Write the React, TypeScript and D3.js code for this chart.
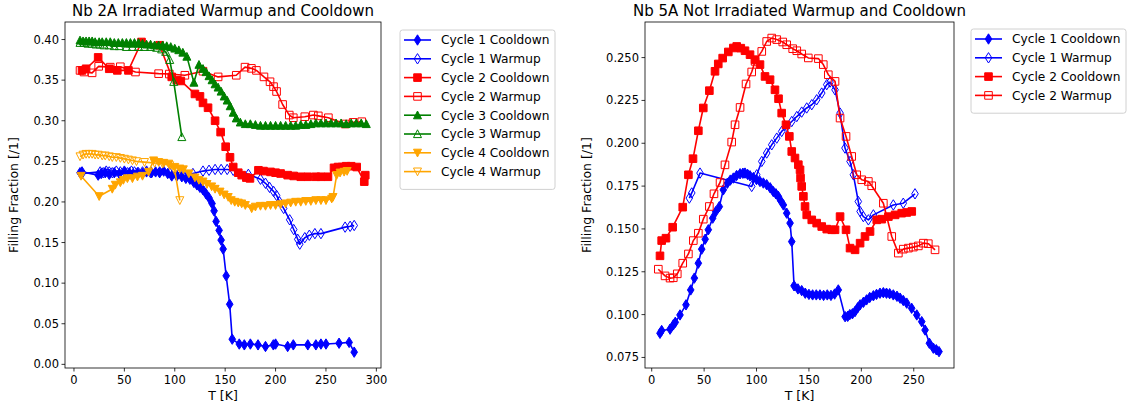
import React from "react";
import * as d3 from "d3";

type P = [number, number];

// ---------- Left: Nb 2A Irradiated ----------
const L_c1Cool: P[] = [[6,0.236],[8,0.237],[24,0.233],[27,0.235],[31,0.236],[35,0.234],[40,0.236],[45,0.235],[50,0.237],[55,0.236],[59,0.234],[63,0.236],[68,0.235],[72,0.237],[77,0.236],[81,0.237],[85,0.236],[89,0.238],[93,0.235],[97,0.232],[102,0.232],[107,0.231],[111,0.229],[115,0.228],[119,0.224],[122,0.221],[125,0.218],[128,0.215],[131,0.210],[134,0.205],[137,0.198],[139,0.189],[141,0.176],[144,0.165],[146,0.153],[148,0.142],[151,0.109],[154.5,0.074],[157,0.031],[164,0.025],[169,0.024],[175,0.025],[182.6,0.024],[190,0.022],[197.8,0.024],[200,0.025],[212,0.022],[217.6,0.024],[232,0.024],[240,0.024],[245,0.025],[250,0.025],[263,0.026],[273,0.027],[278,0.015]];
const L_c1Warm: P[] = [[8,0.235],[26,0.237],[29,0.236],[32,0.238],[35,0.237],[38,0.236],[42,0.238],[46,0.237],[50,0.238],[53,0.236],[57,0.238],[60,0.237],[64,0.236],[68,0.237],[72,0.238],[76,0.236],[85,0.237],[95,0.236],[105,0.236],[118,0.235],[128,0.238],[134,0.239],[140,0.240],[146,0.240],[152,0.240],[158,0.239],[173,0.234],[185,0.228],[190,0.223],[194,0.218],[198,0.213],[201,0.208],[204,0.200],[208,0.192],[214,0.178],[218,0.166],[222,0.154],[224,0.148],[229,0.156],[233.5,0.159],[239,0.161],[245,0.161],[269,0.169],[274,0.170],[278,0.171]];
const L_c2Cool: P[] = [[8,0.362],[12,0.364],[24,0.378],[35,0.364],[43,0.362],[54,0.362],[67,0.397],[85,0.393],[97,0.354],[102,0.350],[106,0.349],[120,0.333],[125,0.330],[128,0.322],[133,0.316],[140,0.300],[145.5,0.286],[150.5,0.268],[154.8,0.255],[158,0.243],[163,0.236],[166.4,0.233],[171,0.230],[174.6,0.229],[183,0.239],[188,0.238],[195,0.237],[200,0.236],[205,0.235],[212,0.233],[218,0.232],[225,0.231],[232,0.231],[240,0.231],[245,0.231],[252,0.231],[258,0.242],[262,0.243],[266,0.243],[270,0.244],[275,0.244],[280.5,0.243],[288,0.225],[289,0.233]];
const L_c2Warm: P[] = [[6,0.362],[10,0.360],[18,0.359],[24.5,0.367],[36,0.366],[46,0.3665],[61,0.360],[84,0.358],[94.6,0.3575],[110,0.356],[128,0.361],[143,0.354],[161,0.356],[169.7,0.366],[176,0.3645],[181,0.362],[188.5,0.354],[194.5,0.348],[198,0.342],[201,0.336],[207,0.320],[213.6,0.307],[217.6,0.3037],[229,0.305],[237.5,0.307],[242.4,0.306],[252.4,0.3037],[269,0.296],[277,0.298],[285.5,0.2988]];
const L_c3Cool: P[] = [[6,0.399],[9,0.398],[12,0.398],[15,0.398],[18,0.398],[21,0.397],[25,0.397],[28,0.397],[32,0.397],[36,0.397],[40,0.396],[44,0.396],[48,0.396],[52,0.396],[56,0.396],[60,0.396],[64,0.396],[68,0.395],[72,0.394],[76,0.394],[80,0.393],[84,0.393],[88,0.393],[92,0.392],[96,0.391],[100,0.389],[104,0.387],[108,0.384],[112,0.379],[119,0.347],[124,0.369],[128,0.364],[131,0.360],[134,0.355],[137,0.350],[140,0.345],[143,0.341],[146,0.336],[149,0.330],[152,0.325],[155,0.318],[158,0.310],[161,0.303],[165,0.298],[170,0.296],[175,0.296],[180,0.295],[185,0.294],[190,0.294],[195,0.294],[200,0.294],[205,0.294],[210,0.294],[215,0.294],[220,0.294],[225,0.295],[230,0.295],[235,0.296],[240,0.297],[245,0.297],[250,0.297],[255,0.297],[260,0.297],[265,0.297],[270,0.296],[275,0.297],[280,0.297],[285,0.297],[290,0.296]];
const L_c3Warm: P[] = [[6,0.396],[10,0.396],[14,0.395],[18,0.395],[22,0.394],[26,0.394],[30,0.393],[35,0.393],[40,0.392],[45,0.392],[52,0.391],[58,0.391],[64,0.391],[70,0.391],[76,0.391],[82,0.390],[87,0.388],[91,0.385],[95,0.375],[99,0.348],[107,0.280]];
const L_c4Cool: P[] = [[7,0.232],[25,0.207],[38,0.216],[41,0.221],[46,0.224],[49,0.227],[53,0.229],[58,0.229],[63,0.231],[68,0.232],[74,0.237],[79,0.251],[84,0.249],[89,0.248],[94,0.247],[100,0.243],[105,0.241],[108.5,0.240],[114,0.235],[120,0.230],[124,0.227],[128,0.225],[132,0.222],[136.6,0.219],[140,0.216],[144.9,0.2126],[149,0.209],[153,0.206],[156,0.202],[159.5,0.200],[163,0.199],[166.4,0.198],[170,0.196],[176.3,0.192],[180,0.194],[185,0.195],[190,0.195],[195,0.196],[200,0.196],[205,0.197],[210,0.198],[215,0.199],[220,0.200],[225,0.200],[230,0.201],[235,0.201],[240,0.202],[245,0.202],[250,0.202],[255.7,0.204],[257,0.206],[260.6,0.233],[264,0.236],[268,0.237],[271,0.238]];
const L_c4Warm: P[] = [[6,0.256],[9,0.258],[12,0.259],[15,0.259],[18,0.259],[21,0.258],[24,0.258],[28,0.257],[31,0.257],[35,0.256],[38,0.255],[42,0.255],[46,0.254],[50,0.253],[54,0.252],[58,0.251],[62,0.250],[70,0.249],[80,0.248],[88,0.247],[95,0.245],[100,0.239],[105,0.202]];

// ---------- Right: Nb 5A Not Irradiated ----------
const R_c1Cool: P[] = [[7.9,0.0891],[9.5,0.0907],[17.5,0.0915],[20.6,0.094],[22.5,0.0955],[27,0.0998],[32.7,0.1057],[37.2,0.1144],[40.7,0.1213],[44.5,0.130],[47.7,0.1382],[51,0.1440],[54,0.1495],[58.2,0.1563],[61,0.1600],[64.5,0.1630],[68.3,0.1728],[72.2,0.1767],[75,0.1785],[77.9,0.1797],[81,0.1812],[84.3,0.1822],[87,0.1825],[89,0.1826],[91.5,0.1818],[93.8,0.181],[97,0.1800],[100,0.1788],[103.3,0.1777],[106.5,0.1768],[109.7,0.1758],[113,0.1740],[116,0.1718],[118.5,0.1705],[120.8,0.169],[123,0.1665],[125.6,0.164],[128.8,0.1592],[132,0.1534],[133.6,0.1426],[135.8,0.1168],[139.5,0.1150],[143.1,0.114],[146.5,0.1125],[150,0.1118],[153.5,0.1115],[157,0.1115],[160.5,0.1115],[164,0.1112],[167.5,0.1115],[171,0.1112],[174.5,0.1120],[178,0.1144],[184.5,0.0988],[187,0.0990],[189,0.1000],[191.5,0.1005],[194,0.1018],[196.5,0.1040],[198.8,0.1057],[202,0.1072],[205,0.1086],[208,0.1100],[211.5,0.111],[214.5,0.1118],[217.8,0.1125],[221,0.1128],[224,0.1125],[227,0.1122],[230.5,0.1115],[234,0.1107],[237,0.1096],[240,0.1082],[243.3,0.1067],[248,0.1037],[252.9,0.0998],[257.6,0.0959],[260.8,0.091],[264.9,0.0833],[268.7,0.0804],[271.5,0.0795],[274.1,0.0784]];
const R_c1Warm: P[] = [[35.9,0.168],[38.2,0.171],[46.1,0.1826],[95.4,0.1748],[100.2,0.1816],[105,0.1894],[109.7,0.1943],[114.5,0.1991],[119.3,0.203],[124,0.2069],[128.8,0.2098],[133.6,0.2127],[138.4,0.2156],[143.1,0.2182],[147.9,0.2206],[152.7,0.2225],[157.4,0.2254],[162.2,0.2293],[167,0.2342],[170.1,0.2357],[174.9,0.2312],[179.7,0.2176],[184.4,0.1972],[189.2,0.1894],[192.4,0.1816],[197.1,0.166],[198.8,0.1602],[201.9,0.1572],[206.7,0.1553],[211.5,0.1582],[230.5,0.164],[240,0.165],[251.2,0.1705]];
const R_c2Cool: P[] = [[7.9,0.1343],[9.5,0.1432],[13.6,0.1446],[20,0.151],[29.6,0.1627],[35,0.1816],[39.4,0.1910],[44.5,0.2073],[49.2,0.2206],[55,0.2307],[60.4,0.242],[63.5,0.2463],[67.7,0.2497],[73.1,0.2533],[77.9,0.2556],[81.1,0.2565],[85,0.2555],[89,0.254],[93.8,0.2517],[98.6,0.2488],[103.3,0.2459],[108.1,0.239],[112.9,0.2371],[117.6,0.2312],[121,0.2260],[124,0.2176],[128.1,0.2108],[131.3,0.204],[133.6,0.1952],[136.7,0.1914],[139.9,0.1875],[141.5,0.1845],[142,0.1797],[143.1,0.1748],[144.7,0.169],[146.3,0.1631],[147.9,0.1582],[152.7,0.1553],[157.4,0.1534],[162.2,0.1514],[167,0.1499],[171.8,0.1495],[174.9,0.1495],[179.7,0.1572],[185.4,0.1495],[189.2,0.1388],[194,0.1378],[198.8,0.1417],[203.5,0.1456],[208.3,0.1485],[214.7,0.1553],[219.5,0.1557],[225.8,0.1572],[232.2,0.1582],[238.5,0.1592],[243.3,0.1596],[248.1,0.1602]];
const R_c2Warm: P[] = [[6.3,0.1265],[12.7,0.1226],[17.5,0.1213],[20.6,0.1215],[24.4,0.1238],[29.6,0.130],[35,0.1354],[39.7,0.1432],[44.5,0.1475],[49.2,0.1557],[55,0.1631],[59.4,0.1705],[65.2,0.1771],[69.9,0.1874],[76.3,0.2007],[79.5,0.2108],[84.3,0.2209],[90,0.2346],[95.4,0.2416],[98.6,0.2478],[105,0.2536],[109.7,0.2594],[114.5,0.2614],[119.3,0.2605],[125,0.2591],[128.8,0.2575],[134.5,0.2552],[138.4,0.254],[143.1,0.2521],[149.4,0.2498],[159,0.2494],[163.7,0.2459],[168.5,0.240],[174.9,0.2361],[179.7,0.2147],[185.4,0.204],[190.8,0.1923],[195.6,0.1816],[200.4,0.1787],[206.7,0.1777],[209.9,0.1752],[221,0.165],[229,0.1456],[235.3,0.1359],[240,0.1382],[244.9,0.1388],[249.6,0.1394],[254.4,0.1401],[259.2,0.1417],[263.9,0.1414],[270.3,0.1378]];

const leftLabels = ["Cycle 1 Cooldown","Cycle 1 Warmup","Cycle 2 Cooldown","Cycle 2 Warmup","Cycle 3 Cooldown","Cycle 3 Warmup","Cycle 4 Cooldown","Cycle 4 Warmup"];
const rightLabels = ["Cycle 1 Cooldown","Cycle 1 Warmup","Cycle 2 Cooldown","Cycle 2 Warmup"];
const leftXTicks = [0,50,100,150,200,250,300];
const leftYTicks = [0,0.05,0.1,0.15,0.2,0.25,0.3,0.35,0.4];
const rightXTicks = [0,50,100,150,200,250];
const rightYTicks = [0.075,0.1,0.125,0.15,0.175,0.2,0.225,0.25];

type Marker = "d" | "s" | "^" | "v";
interface Series { data: P[]; color: string; marker: Marker; filled: boolean; }

const BLUE = "#0000ff", RED = "#ff0000", GREEN = "#008000", ORANGE = "#ffa500";

const leftSeries: Series[] = [
  { data: L_c1Cool, color: BLUE, marker: "d", filled: true },
  { data: L_c1Warm, color: BLUE, marker: "d", filled: false },
  { data: L_c2Cool, color: RED, marker: "s", filled: true },
  { data: L_c2Warm, color: RED, marker: "s", filled: false },
  { data: L_c3Cool, color: GREEN, marker: "^", filled: true },
  { data: L_c3Warm, color: GREEN, marker: "^", filled: false },
  { data: L_c4Cool, color: ORANGE, marker: "v", filled: true },
  { data: L_c4Warm, color: ORANGE, marker: "v", filled: false },
];
const rightSeries: Series[] = [
  { data: R_c1Cool, color: BLUE, marker: "d", filled: true },
  { data: R_c1Warm, color: BLUE, marker: "d", filled: false },
  { data: R_c2Cool, color: RED, marker: "s", filled: true },
  { data: R_c2Warm, color: RED, marker: "s", filled: false },
];

function markerPath(m: Marker): string {
  switch (m) {
    case "d": return "M0,-5.2L3.3,0L0,5.2L-3.3,0Z";
    case "s": return "M-3.8,-3.8H3.8V3.8H-3.8Z";
    case "^": return "M0,-4.2L4,3.6L-4,3.6Z";
    case "v": return "M0,4.2L4,-3.6L-4,-3.6Z";
  }
}

const FONT = "DejaVu Sans, sans-serif";

interface PanelProps {
  x0: number; x1: number; y0: number; y1: number;
  xDomain: [number, number]; yDomain: [number, number];
  xTicks: number[]; yTicks: number[]; yFmt: (v: number) => string;
  series: Series[]; title: string; labels: string[];
  legendX: number; legendY: number; legendW: number;
  yLabelX: number;
}

function Panel(p: PanelProps) {
  const xs = d3.scaleLinear().domain(p.xDomain).range([p.x0, p.x1]);
  const ys = d3.scaleLinear().domain(p.yDomain).range([p.y1, p.y0]);
  const line = d3.line<P>().x(d => xs(d[0])).y(d => ys(d[1]));
  const clipId = "clip" + Math.round(p.x0);
  const rowH = 18.8;
  const legendH = p.labels.length * rowH + 9;
  return (
    <g>
      <defs>
        <clipPath id={clipId}><rect x={p.x0} y={p.y0} width={p.x1 - p.x0} height={p.y1 - p.y0} /></clipPath>
      </defs>
      <g clipPath={`url(#${clipId})`}>
        {p.series.map((s, i) => (
          <g key={i}>
            <path d={line(s.data) || ""} fill="none" stroke={s.color} strokeWidth={1.6} strokeLinejoin="round" />
            {s.data.map((d, j) => (
              <path key={j} d={markerPath(s.marker)} transform={`translate(${xs(d[0])},${ys(d[1])})`}
                fill={s.filled ? s.color : "none"} stroke={s.color} strokeWidth={1} />
            ))}
          </g>
        ))}
      </g>
      <rect x={p.x0} y={p.y0} width={p.x1 - p.x0} height={p.y1 - p.y0} fill="none" stroke="#000" strokeWidth={0.8} />
      {p.xTicks.map(t => (
        <g key={t}>
          <line x1={xs(t)} x2={xs(t)} y1={p.y1} y2={p.y1 + 3.5} stroke="#000" strokeWidth={0.8} />
          <text x={xs(t)} y={p.y1 + 15.5} textAnchor="middle" fontSize={11.5} fontFamily={FONT}>{t}</text>
        </g>
      ))}
      {p.yTicks.map(t => (
        <g key={t}>
          <line x1={p.x0 - 3.5} x2={p.x0} y1={ys(t)} y2={ys(t)} stroke="#000" strokeWidth={0.8} />
          <text x={p.x0 - 6} y={ys(t) + 4} textAnchor="end" fontSize={11.5} fontFamily={FONT}>{p.yFmt(t)}</text>
        </g>
      ))}
      <text x={(p.x0 + p.x1) / 2} y={p.y1 + 32} textAnchor="middle" fontSize={12.5} fontFamily={FONT}>T [K]</text>
      <text transform={`translate(${p.yLabelX},${(p.y0 + p.y1) / 2}) rotate(-90)`} textAnchor="middle" fontSize={12.5} fontFamily={FONT}>Filling Fraction [/1]</text>
      <text x={(p.x0 + p.x1) / 2} y={p.y0 - 6} textAnchor="middle" fontSize={15} fontFamily={FONT}>{p.title}</text>
      <rect x={p.legendX} y={p.legendY} width={p.legendW} height={legendH} rx={2.5} fill="#fff" stroke="#d0d0d0" strokeWidth={1} />
      {p.labels.map((lab, i) => {
        const s = p.series[i];
        const cy = p.legendY + 10 + i * rowH;
        const lx = p.legendX + 4;
        return (
          <g key={i}>
            <line x1={lx} x2={lx + 27} y1={cy} y2={cy} stroke={s.color} strokeWidth={1.6} />
            <path d={markerPath(s.marker)} transform={`translate(${lx + 13.5},${cy})`} fill={s.filled ? s.color : "none"} stroke={s.color} strokeWidth={1} />
            <text x={lx + 37} y={cy + 4.3} fontSize={12.2} fontFamily={FONT}>{lab}</text>
          </g>
        );
      })}
    </g>
  );
}

export default function App() {
  return (
    <svg width={1127} height={408} style={{ position: "absolute", left: 0, top: 0, background: "#fff" }}>
      <rect width={1127} height={408} fill="#fff" />
      <Panel x0={65} x1={381} y0={22} y1={368} xDomain={[-8.9, 304.6]} yDomain={[-0.0045, 0.4216]}
        xTicks={leftXTicks} yTicks={leftYTicks} yFmt={v => v.toFixed(2)} series={leftSeries}
        title="Nb 2A Irradiated Warmup and Cooldown" labels={leftLabels}
        legendX={400} legendY={30} legendW={155} yLabelX={18} />
      <Panel x0={645} x1={954} y0={22} y1={368} xDomain={[-6.4, 288.4]} yDomain={[0.06884, 0.27077]}
        xTicks={rightXTicks} yTicks={rightYTicks} yFmt={v => v.toFixed(3)} series={rightSeries}
        title="Nb 5A Not Irradiated Warmup and Cooldown" labels={rightLabels}
        legendX={971} legendY={29} legendW={155} yLabelX={591} />
    </svg>
  );
}
